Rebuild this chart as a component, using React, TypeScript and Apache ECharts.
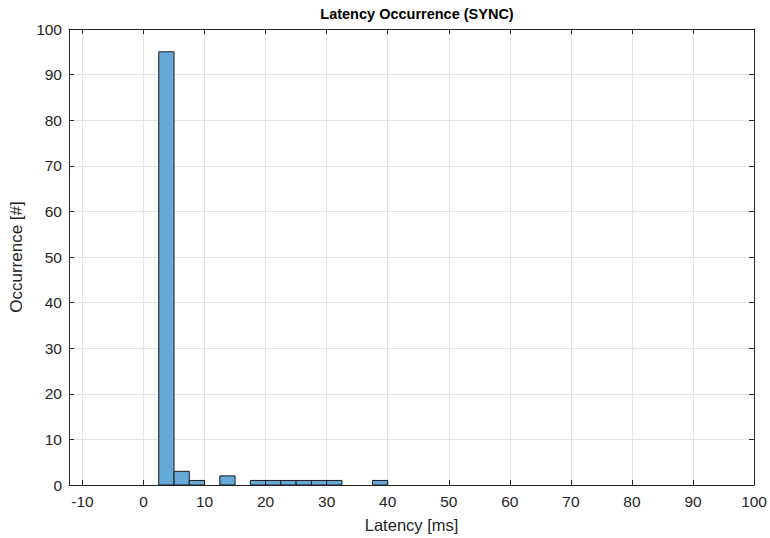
import React, { useEffect, useRef } from "react";
import * as echarts from "echarts";

const binStarts = [2.5, 5, 7.5, 10, 12.5, 15, 17.5, 20, 22.5, 25, 27.5, 30, 32.5, 35, 37.5];
const binWidth = 2.5;
const counts = [95, 3, 1, 0, 2, 0, 1, 1, 1, 1, 1, 1, 0, 0, 1];
const xRange = [-12.2, 100];
const yRange = [0, 100];
const titleText = "Latency Occurrence (SYNC)";
const xLabel = "Latency [ms]";
const yLabel = "Occurrence [#]";

export default function App() {
  const ref = useRef<HTMLDivElement>(null);
  useEffect(() => {
    if (!ref.current) return;
    const chart = echarts.init(ref.current, undefined, { renderer: "svg" });
    const axisColor = "#262626";
    const font = "Arial, 'Liberation Sans', Helvetica, sans-serif";
    const data = binStarts
      .map((s, i) => [s, s + binWidth, counts[i]])
      .filter((d) => d[2] > 0);
    const baseX = {
      type: "value",
      min: xRange[0],
      max: xRange[1],
      minInterval: 10,
      maxInterval: 10,
      splitNumber: 11,
      axisLine: { show: true, onZero: false, lineStyle: { color: axisColor, width: 1 } },
      axisTick: { show: true, inside: true, length: 5, lineStyle: { color: axisColor } },
    };
    const baseY = {
      type: "value",
      min: yRange[0],
      max: yRange[1],
      interval: 10,
      axisLine: { show: true, onZero: false, lineStyle: { color: axisColor, width: 1 } },
      axisTick: { show: true, inside: true, length: 5, lineStyle: { color: axisColor } },
    };
    chart.setOption({
      animation: false,
      backgroundColor: "#ffffff",
      title: {
        text: titleText,
        left: 412,
        textAlign: "center",
        top: 1,
        textStyle: { fontFamily: font, fontSize: 14.5, fontWeight: "bold", color: "#000" },
      },
      grid: { left: 69, right: 14, top: 29, bottom: 53, containLabel: false },
      xAxis: [
        {
          ...baseX,
          position: "bottom",
          name: xLabel,
          nameLocation: "middle",
          nameGap: 31,
          nameTextStyle: { fontFamily: font, fontSize: 16.5, color: axisColor },
          axisLabel: {
            showMinLabel: false,
            margin: 8,
            fontFamily: font,
            fontSize: 15.5,
            color: axisColor,
          },
          splitLine: { show: true, lineStyle: { color: "#e3e3e3", width: 1 } },
        },
        {
          ...baseX,
          position: "top",
          axisLabel: { show: false },
          splitLine: { show: false },
        },
      ],
      yAxis: [
        {
          ...baseY,
          position: "left",
          name: yLabel,
          nameLocation: "middle",
          nameGap: 42,
          nameTextStyle: { fontFamily: font, fontSize: 17, color: axisColor },
          axisLabel: { margin: 7, fontFamily: font, fontSize: 15.5, color: axisColor },
          splitLine: { show: true, lineStyle: { color: "#e3e3e3", width: 1 } },
        },
        {
          ...baseY,
          position: "right",
          axisLabel: { show: false },
          splitLine: { show: false },
        },
      ],
      series: [
        {
          type: "custom",
          xAxisIndex: 0,
          yAxisIndex: 0,
          data,
          encode: { x: [0, 1], y: 2 },
          renderItem: (params: any, api: any) => {
            const x0 = api.value(0);
            const x1 = api.value(1);
            const v = api.value(2);
            const p0 = api.coord([x0, v]);
            const p1 = api.coord([x1, 0]);
            return {
              type: "rect",
              shape: { x: p0[0], y: p0[1], width: p1[0] - p0[0], height: p1[1] - p0[1] },
              style: { fill: "#64a9d8", stroke: "#1a1a1a", lineWidth: 1 },
            };
          },
        },
      ],
    });
    return () => chart.dispose();
  }, []);
  return (
    <div style={{ position: "fixed", left: 0, top: 0, width: 770, height: 538 }}>
      <div ref={ref} style={{ width: 770, height: 538 }} />
    </div>
  );
}
